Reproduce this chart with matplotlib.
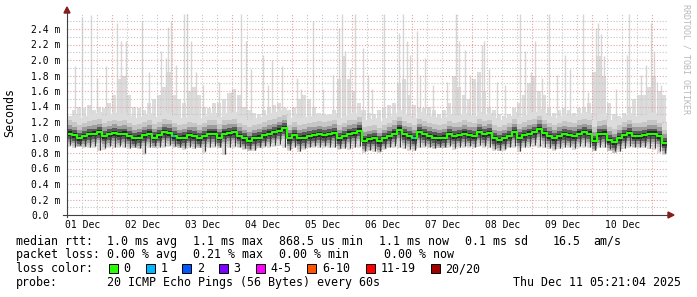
import numpy as np
import pandas as pd
import matplotlib
matplotlib.use("Agg")
import matplotlib.pyplot as plt
import matplotlib.dates as mdates
from matplotlib.lines import Line2D
from matplotlib.patches import Rectangle, Polygon

W, H = 697, 297
MONO = "DejaVu Sans Mono"

# 2 hour bins starting Dec 1 06:00, values in ms
bin_start = "2025-12-01 06:00"
median_ms = [1.05, 1.03, 0.99, 1.02, 1.04, 1.05, 1.07, 1.02, 1.04, 1.06,
             1.04, 1.05, 1.02, 0.99, 1.00, 1.03, 1.05, 1.00, 1.03, 1.07,
             1.06, 1.02, 0.99, 1.00, 1.03, 1.02, 0.99, 1.02, 1.05, 1.05,
             1.00, 1.05, 1.06, 1.07, 1.02, 0.99, 0.96, 0.99, 1.00, 1.03,
             1.05, 1.07, 1.09, 1.12, 0.99, 1.03, 0.99, 1.00, 1.02, 1.03,
             1.04, 1.03, 1.04, 1.06, 0.99, 1.02, 1.05, 1.06, 1.09, 0.96,
             0.98, 0.99, 0.95, 0.99, 1.02, 1.05, 1.10, 1.04, 1.02, 0.99,
             1.07, 1.04, 1.02, 1.00, 0.99, 1.00, 1.04, 1.02, 1.03, 1.05,
             1.03, 1.02, 1.07, 1.04, 1.06, 0.99, 0.97, 0.99, 1.02, 1.07,
             1.00, 1.03, 1.05, 1.07, 1.11, 1.06, 1.02, 0.99, 1.02, 1.04,
             1.03, 1.02, 1.05, 1.07, 1.05, 0.96, 1.04, 1.05, 0.97, 0.94,
             0.99, 1.03, 1.06, 1.02, 1.02, 1.03, 1.05, 1.05, 1.02, 0.93]
upper_ms = [1.28, 1.35, 1.40, 1.38, 1.42, 1.35, 1.40, 1.38, 1.45, 1.55,
            1.75, 1.80, 1.55, 1.40, 1.38, 1.35, 1.45, 1.50, 1.55, 1.65,
            1.85, 1.55, 1.50, 1.45, 1.60, 1.65, 1.55, 1.40, 1.38, 1.45,
            1.45, 1.50, 1.58, 1.62, 1.55, 1.40, 1.35, 1.32, 1.30, 1.35,
            1.40, 1.42, 1.45, 1.40, 1.35, 1.40, 1.50, 1.55, 1.50, 1.40,
            1.32, 1.30, 1.30, 1.35, 1.75, 2.05, 1.75, 1.60, 1.45, 1.35,
            1.32, 1.30, 1.35, 1.38, 1.42, 1.45, 1.70, 1.75, 1.55, 1.42,
            1.40, 1.38, 1.40, 1.35, 1.30, 1.35, 1.45, 1.80, 1.65, 1.55,
            1.50, 1.75, 1.85, 1.60, 1.40, 1.35, 1.30, 1.28, 1.30, 1.38,
            1.45, 1.55, 1.70, 1.80, 1.60, 1.55, 1.40, 1.32, 1.35, 1.38,
            1.35, 1.32, 1.38, 1.40, 1.45, 1.85, 2.05, 1.80, 1.45, 1.30,
            1.28, 1.32, 1.40, 1.50, 1.55, 1.55, 1.65, 1.80, 1.60, 1.55]
lower_ms = [0.88, 0.86, 0.88, 0.87, 0.86, 0.87, 0.82, 0.84, 0.87, 0.86,
            0.87, 0.86, 0.85, 0.86, 0.85, 0.78, 0.86, 0.87, 0.86, 0.87,
            0.88, 0.87, 0.86, 0.84, 0.86, 0.85, 0.86, 0.80, 0.86, 0.87,
            0.86, 0.77, 0.86, 0.87, 0.86, 0.84, 0.83, 0.82, 0.86, 0.87,
            0.87, 0.88, 0.89, 0.86, 0.82, 0.86, 0.81, 0.84, 0.86, 0.87,
            0.86, 0.87, 0.86, 0.86, 0.84, 0.85, 0.84, 0.86, 0.87, 0.80,
            0.82, 0.81, 0.80, 0.84, 0.86, 0.87, 0.86, 0.85, 0.83, 0.82,
            0.86, 0.87, 0.86, 0.85, 0.86, 0.86, 0.87, 0.84, 0.86, 0.87,
            0.87, 0.86, 0.88, 0.87, 0.86, 0.83, 0.82, 0.83, 0.86, 0.87,
            0.81, 0.86, 0.87, 0.88, 0.87, 0.86, 0.85, 0.83, 0.85, 0.86,
            0.86, 0.84, 0.87, 0.87, 0.86, 0.82, 0.86, 0.86, 0.83, 0.80,
            0.81, 0.85, 0.87, 0.86, 0.86, 0.86, 0.85, 0.84, 0.80, 0.78]

# single slow pings (days since Dec 1 00:00, top in ms)
spike_day = [0.38, 0.50, 0.64, 0.74, 0.89, 1.08, 1.15, 1.22, 1.50, 1.61, 1.81, 1.89,
             1.92, 1.98, 2.06, 2.20, 2.24, 2.31, 2.40, 2.51, 2.78, 2.98, 3.15, 3.23,
             3.31, 3.51, 3.59, 3.66, 3.82, 4.07, 4.15, 4.35, 4.51, 4.68, 4.77, 4.82,
             4.88, 4.96, 5.05, 5.18, 5.26, 5.32, 5.53, 5.77, 5.85, 5.91, 5.96, 6.07,
             6.13, 6.21, 6.35, 6.57, 6.73, 6.77, 6.88, 6.96, 7.08, 7.16, 7.19, 7.27,
             7.41, 7.55, 7.80, 7.88, 7.97, 8.05, 8.16, 8.27, 8.41, 8.55, 8.63, 8.85,
             8.92, 9.06, 9.10, 9.14, 9.20, 9.39, 9.58, 9.61, 9.81, 9.89, 9.98, 10.02,
             10.08, 10.15]
spike_top_ms = [1.92, 2.55, 2.58, 1.77, 1.92, 2.48, 2.24, 2.24, 2.50, 1.85, 2.11, 2.03,
                2.42, 2.50, 1.94, 2.59, 2.60, 2.24, 1.85, 1.68, 1.72, 1.59, 2.59, 2.24,
                1.89, 2.07, 1.68, 2.00, 1.92, 1.77, 1.63, 2.50, 1.63, 1.81, 2.41, 2.59,
                2.11, 1.89, 2.59, 2.15, 1.81, 1.63, 2.59, 2.35, 2.59, 2.24, 2.07, 2.37,
                1.81, 2.03, 1.68, 1.72, 2.59, 2.24, 2.13, 1.81, 1.72, 2.20, 2.24, 1.89,
                1.72, 1.68, 2.59, 2.11, 1.85, 2.24, 1.77, 2.59, 1.81, 2.07, 1.89, 2.59,
                1.59, 2.41, 2.48, 2.33, 2.05, 1.63, 2.07, 2.59, 1.81, 1.94, 2.48, 2.11,
                1.72, 1.68]

loss_day = [2.03, 6.03]          # one lost ping out of 20

loss_labels = ["0", "1", "2", "3", "4-5", "6-10", "11-19", "20/20"]
loss_colors = ["#26ff00", "#00b8ff", "#0059ff", "#7e00ff",
               "#ff00ff", "#ff5500", "#ff0000", "#a00000"]
day_labels = ["01 Dec", "02 Dec", "03 Dec", "04 Dec", "05 Dec",
              "06 Dec", "07 Dec", "08 Dec", "09 Dec", "10 Dec"]

rtt_row = ["1.0 ms avg", "1.1 ms max", "868.5 us min", "1.1 ms now", "0.1 ms sd", "16.5", "am/s"]
pl_row = ["0.00 % avg", "0.21 % max", "0.00 % min", "0.00 % now"]
probe_text = "20 ICMP Echo Pings (56 Bytes) every 60s"
stamp_text = "Thu Dec 11 05:21:04 2025"


def fx(px):
    return px / W


def fy(py):
    return 1 - py / H


fig = plt.figure(figsize=(W / 100, H / 100), dpi=100)
fig.patch.set_facecolor("white")
ax = fig.add_axes([fx(67), fy(215), 600 / W, 201.5 / H])

base = mdates.date2num(pd.Timestamp("2025-12-01"))
edges = mdates.date2num(pd.date_range(bin_start, periods=len(median_ms) + 1, freq="2h"))
step = edges[1] - edges[0]
med = np.array(median_ms) * 1e-3
upp = np.array(upper_ms) * 1e-3
low = np.array(lower_ms) * 1e-3


def ext(a):
    return np.append(a, a[-1])


# light smoke: thin bars with small gaps, plus single slow pings
ax.bar(edges[:-1], upp - low, bottom=low, width=step * 0.72, align="edge",
       color="#dcdcdc", lw=0, zorder=1)
ax.vlines(base + np.array(spike_day), 1.1e-3, np.array(spike_top_ms) * 1e-3,
          color="#d6d6d6", lw=1.0, zorder=1)

# grid
for v in np.arange(1, 26) * 1e-4:
    major = round(v * 1e4) % 2 == 0
    ax.axhline(v, color="#eba0a0" if major else "#c4c4c4", lw=0.8,
               dashes=(1, 1.6), zorder=1.5)
for t in pd.date_range("2025-12-01 06:00", "2025-12-11 06:00", freq="6h"):
    midnight = t.hour == 0
    ax.axvline(mdates.date2num(t), color="#eba0a0" if midnight else "#c4c4c4",
               lw=0.8, dashes=(1, 1.6), zorder=1.5)

# darker smoke around the median
bands = [(0.26e-3, 0.17e-3, "#dcdcdc"), (0.17e-3, 0.11e-3, "#c6c6c6"),
         (0.11e-3, 0.065e-3, "#9c9c9c"), (0.065e-3, 0.03e-3, "#5a5a5a"),
         (0.03e-3, -0.035e-3, "#252525"), (-0.035e-3, -0.07e-3, "#5c5c5c"),
         (-0.07e-3, -0.105e-3, "#9a9a9a"), (-0.105e-3, -0.14e-3, "#c4c4c4")]
for hi_off, lo_off, col in bands:
    hi = np.minimum(med + hi_off, upp)
    lo = np.maximum(med + lo_off, low)
    ax.fill_between(edges, ext(lo), ext(np.maximum(hi, lo)), step="post",
                    color=col, lw=0, zorder=2)

# dark streaks down to the fastest ping of each bin
ax.vlines(edges[:-1] + step * 0.5, low + 0.02e-3, med, color="#3a3a3a", lw=0.9, zorder=2.2)

# median line coloured by loss
ax.step(edges, ext(med), where="post", color=loss_colors[0], lw=1.5, zorder=3)
for d in loss_day:
    i = np.searchsorted(edges, base + d) - 1
    ax.hlines(med[i], base + d - 0.02, base + d + 0.02, color=loss_colors[1], lw=1.6, zorder=4)

ax.set_xlim(base + 0.245, base + 10.245)
ax.set_ylim(0, 2.6e-3)
for s in ax.spines.values():
    s.set_visible(False)

noon = mdates.date2num(pd.date_range("2025-12-01 12:00", periods=10, freq="D"))
ax.set_xticks(noon)
ax.set_xticklabels(day_labels, fontsize=7, family=MONO)
ax.tick_params(axis="x", length=0, pad=3.6)
yt = np.arange(0, 13) * 2e-4
ax.set_yticks(yt)
ax.set_yticklabels(["0.0" if v == 0 else f"{v * 1e3:.1f} m" for v in yt],
                   fontsize=7, family=MONO, ha="left")
ax.tick_params(axis="y", length=0, pad=26)

# axes with arrows
axis_col = "#404040"
arrow_col = "#8b1a1a"
fig.add_artist(Line2D([fx(63), fx(668)], [fy(215), fy(215)], color=axis_col, lw=0.8))
fig.add_artist(Line2D([fx(67), fx(67)], [fy(217), fy(11)], color=axis_col, lw=0.8))
fig.add_artist(Polygon([[fx(668), fy(212)], [fx(674), fy(215)], [fx(668), fy(218)]],
                       closed=True, color=arrow_col, transform=fig.transFigure))
fig.add_artist(Polygon([[fx(64), fy(13)], [fx(67), fy(7)], [fx(70), fy(13)]],
                       closed=True, color=arrow_col, transform=fig.transFigure))

fig.text(fx(10), fy(113), "Seconds", rotation=90, ha="center", va="center",
         fontsize=8.4, family=MONO)
fig.text(fx(686), fy(4), "RRDTOOL / TOBI OETIKER", rotation=270, ha="center", va="top",
         fontsize=6, family=MONO, color="#b8b8b8")

# legend
lkw = dict(fontsize=8.4, family=MONO, va="baseline", ha="left")
fig.text(fx(15.5), fy(244.7), "median rtt:", **lkw)
for x, s in zip([107, 193, 279, 379, 465, 553, 593], rtt_row):
    fig.text(fx(x), fy(244.7), s, **lkw)
fig.text(fx(15.5), fy(258.3), "packet loss:", **lkw)
for x, s in zip([107, 193, 279, 383.5], pl_row):
    fig.text(fx(x), fy(258.3), s, **lkw)
fig.text(fx(15.5), fy(272.3), "loss color:", **lkw)
for x, lab, col in zip([109, 145.7, 182.3, 219, 255.7, 307.3, 365.7, 430.7],
                       loss_labels, loss_colors):
    fig.add_artist(Rectangle((fx(x), fy(273.3)), 9 / W, 9 / H, facecolor=col,
                             edgecolor="black", lw=0.7, transform=fig.transFigure))
    fig.text(fx(x + 14.5), fy(272.3), lab, **lkw)
fig.text(fx(15.5), fy(286), "probe:", **lkw)
fig.text(fx(107), fy(286), probe_text, **lkw)
fig.text(fx(513), fy(286), stamp_text, **lkw)

fig.savefig("out.png", dpi=100)
